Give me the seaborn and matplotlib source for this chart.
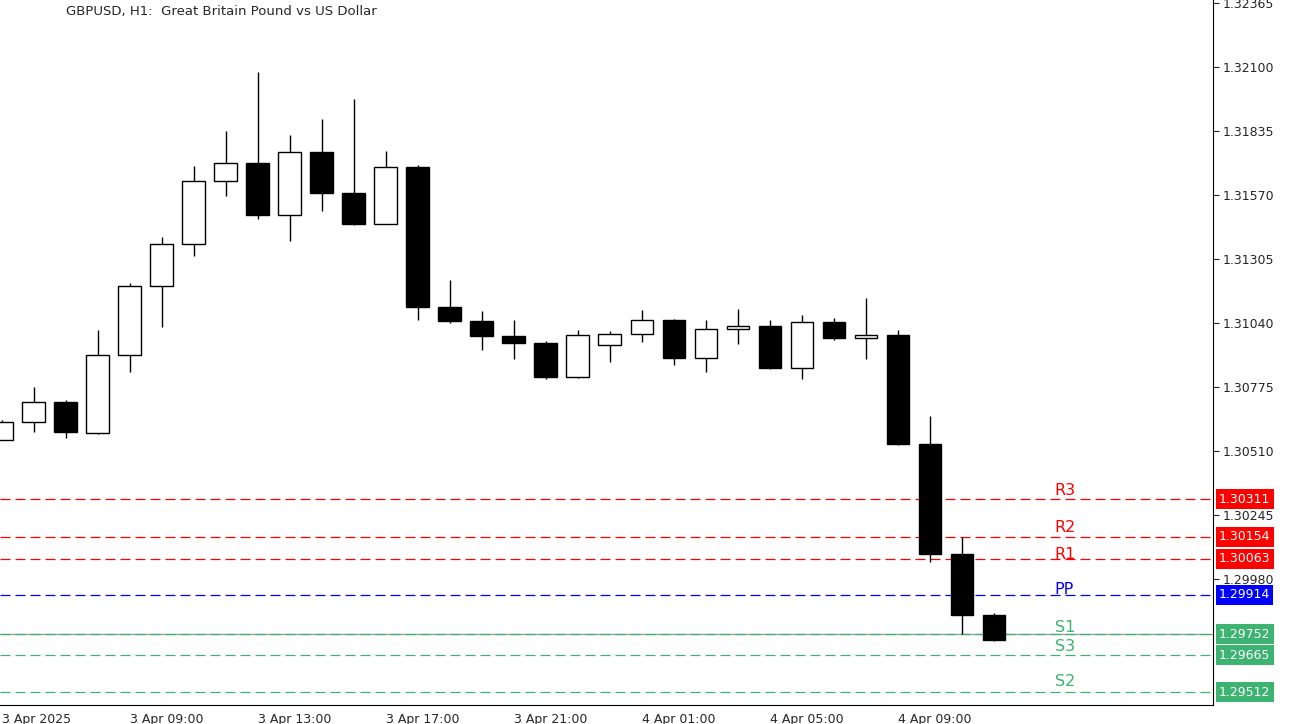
import matplotlib
matplotlib.use("Agg")
import matplotlib.pyplot as plt
import seaborn as sns
import numpy as np

sns.set_style("white")
plt.rcParams['font.family'] = ['DejaVu Sans']

def yp(y):
    return round(1.321 - (y - 67) * 0.00265 / 64, 5)

# candles read as pixel rows then converted: open, close, high, low (pixel rows)
open_px  = [440,422,402,433,355,286,244,181,163,215,152,193,224,167,307,321,336,343,377,345,334,320,358,329,326,368,322,338,335,444,554,615]
close_px = [422,402,432,355,286,244,181,163,215,152,193,224,167,307,321,336,343,377,335,334,320,358,329,326,368,322,338,335,444,554,615,640]
high_px  = [420,387,400,330,283,237,166,131,72,135,119,99,151,165,280,311,320,341,330,331,310,319,320,309,320,315,318,298,330,416,537,613]
low_px   = [440,432,438,434,372,327,256,196,219,241,211,225,224,320,323,350,359,379,378,362,342,365,372,344,369,379,340,359,445,562,634,641]
opens = [yp(v) for v in open_px]
closes = [yp(v) for v in close_px]
highs = [yp(v) for v in high_px]
lows = [yp(v) for v in low_px]

levels = [1.30311, 1.30154, 1.30063, 1.29914, 1.29752, 1.29665, 1.29512]
level_names = ["R3", "R2", "R1", "PP", "S1", "S3", "S2"]
level_colors = ["#ff0000", "#ff0000", "#ff0000", "#0000ff", "#3cb371", "#3cb371", "#3cb371"]
level_text_y = [1.30345, 1.30195, 1.30080, 1.29935, 1.29780, 1.29700, 1.29555]
price_ticks = [1.32365, 1.32100, 1.31835, 1.31570, 1.31305, 1.31040, 1.30775, 1.30510, 1.30245, 1.29980]
time_labels = ["3 Apr 2025", "3 Apr 09:00", "3 Apr 13:00", "3 Apr 17:00", "3 Apr 21:00", "4 Apr 01:00", "4 Apr 05:00", "4 Apr 09:00"]
time_pos = [0, 4, 8, 12, 16, 20, 24, 28]
bid = 1.29752

fig = plt.figure(figsize=(12.94, 7.24), dpi=100)
ax = fig.add_axes([0, 19/724, 1213/1294, 705/724])
ymin, ymax = 1.321 - 638 * 0.00265 / 64, 1.321 + 67 * 0.00265 / 64
ax.set_ylim(ymin, ymax)
ax.set_xlim(-0.05, 37.85)

x = np.arange(len(opens))
ax.vlines(x, lows, highs, color="black", lw=1, zorder=2)
for i in x:
    o, c = opens[i], closes[i]
    bottom, h = min(o, c), max(abs(c - o), 0.00002)
    ax.bar(i, h, bottom=bottom, width=0.7, color="black" if c < o else "white",
           edgecolor="black", lw=1, zorder=3)

ax.axhline(bid, color="#a0a0a0", lw=1, zorder=1)
for lv, nm, col, ty in zip(levels, level_names, level_colors, level_text_y):
    ax.axhline(lv, color=col, lw=0.9, ls=(0, (8, 4)), zorder=1)
    ax.text(32.9, ty, nm, color=col, fontsize=11.5, va="center", ha="left")

ax.yaxis.tick_right()
ax.set_yticks(price_ticks)
ax.set_yticklabels([f"{t:.5f}" for t in price_ticks], fontsize=9)
ax.tick_params(axis="y", length=4, pad=3)
ax.set_xticks(time_pos)
ax.set_xticklabels(time_labels, fontsize=9, ha="left")
ax.tick_params(axis="x", length=4, pad=2)
for s in ["top", "left"]:
    ax.spines[s].set_visible(False)
for s in ["right", "bottom"]:
    ax.spines[s].set_color("black")

for lv, col in zip(levels + [bid], level_colors + ["#3cb371"]):
    ax.text(1.005, (lv - ymin) / (ymax - ymin), f"{lv:.5f}", transform=ax.transAxes,
            fontsize=9, color="white", va="center", ha="left",
            bbox=dict(boxstyle="square,pad=0.25", fc=col, ec="none"))

fig.text(66/1294, 1 - 12/724, "GBPUSD, H1:  Great Britain Pound vs US Dollar", fontsize=9.5, va="center")
fig.savefig("out.png", dpi=100)
